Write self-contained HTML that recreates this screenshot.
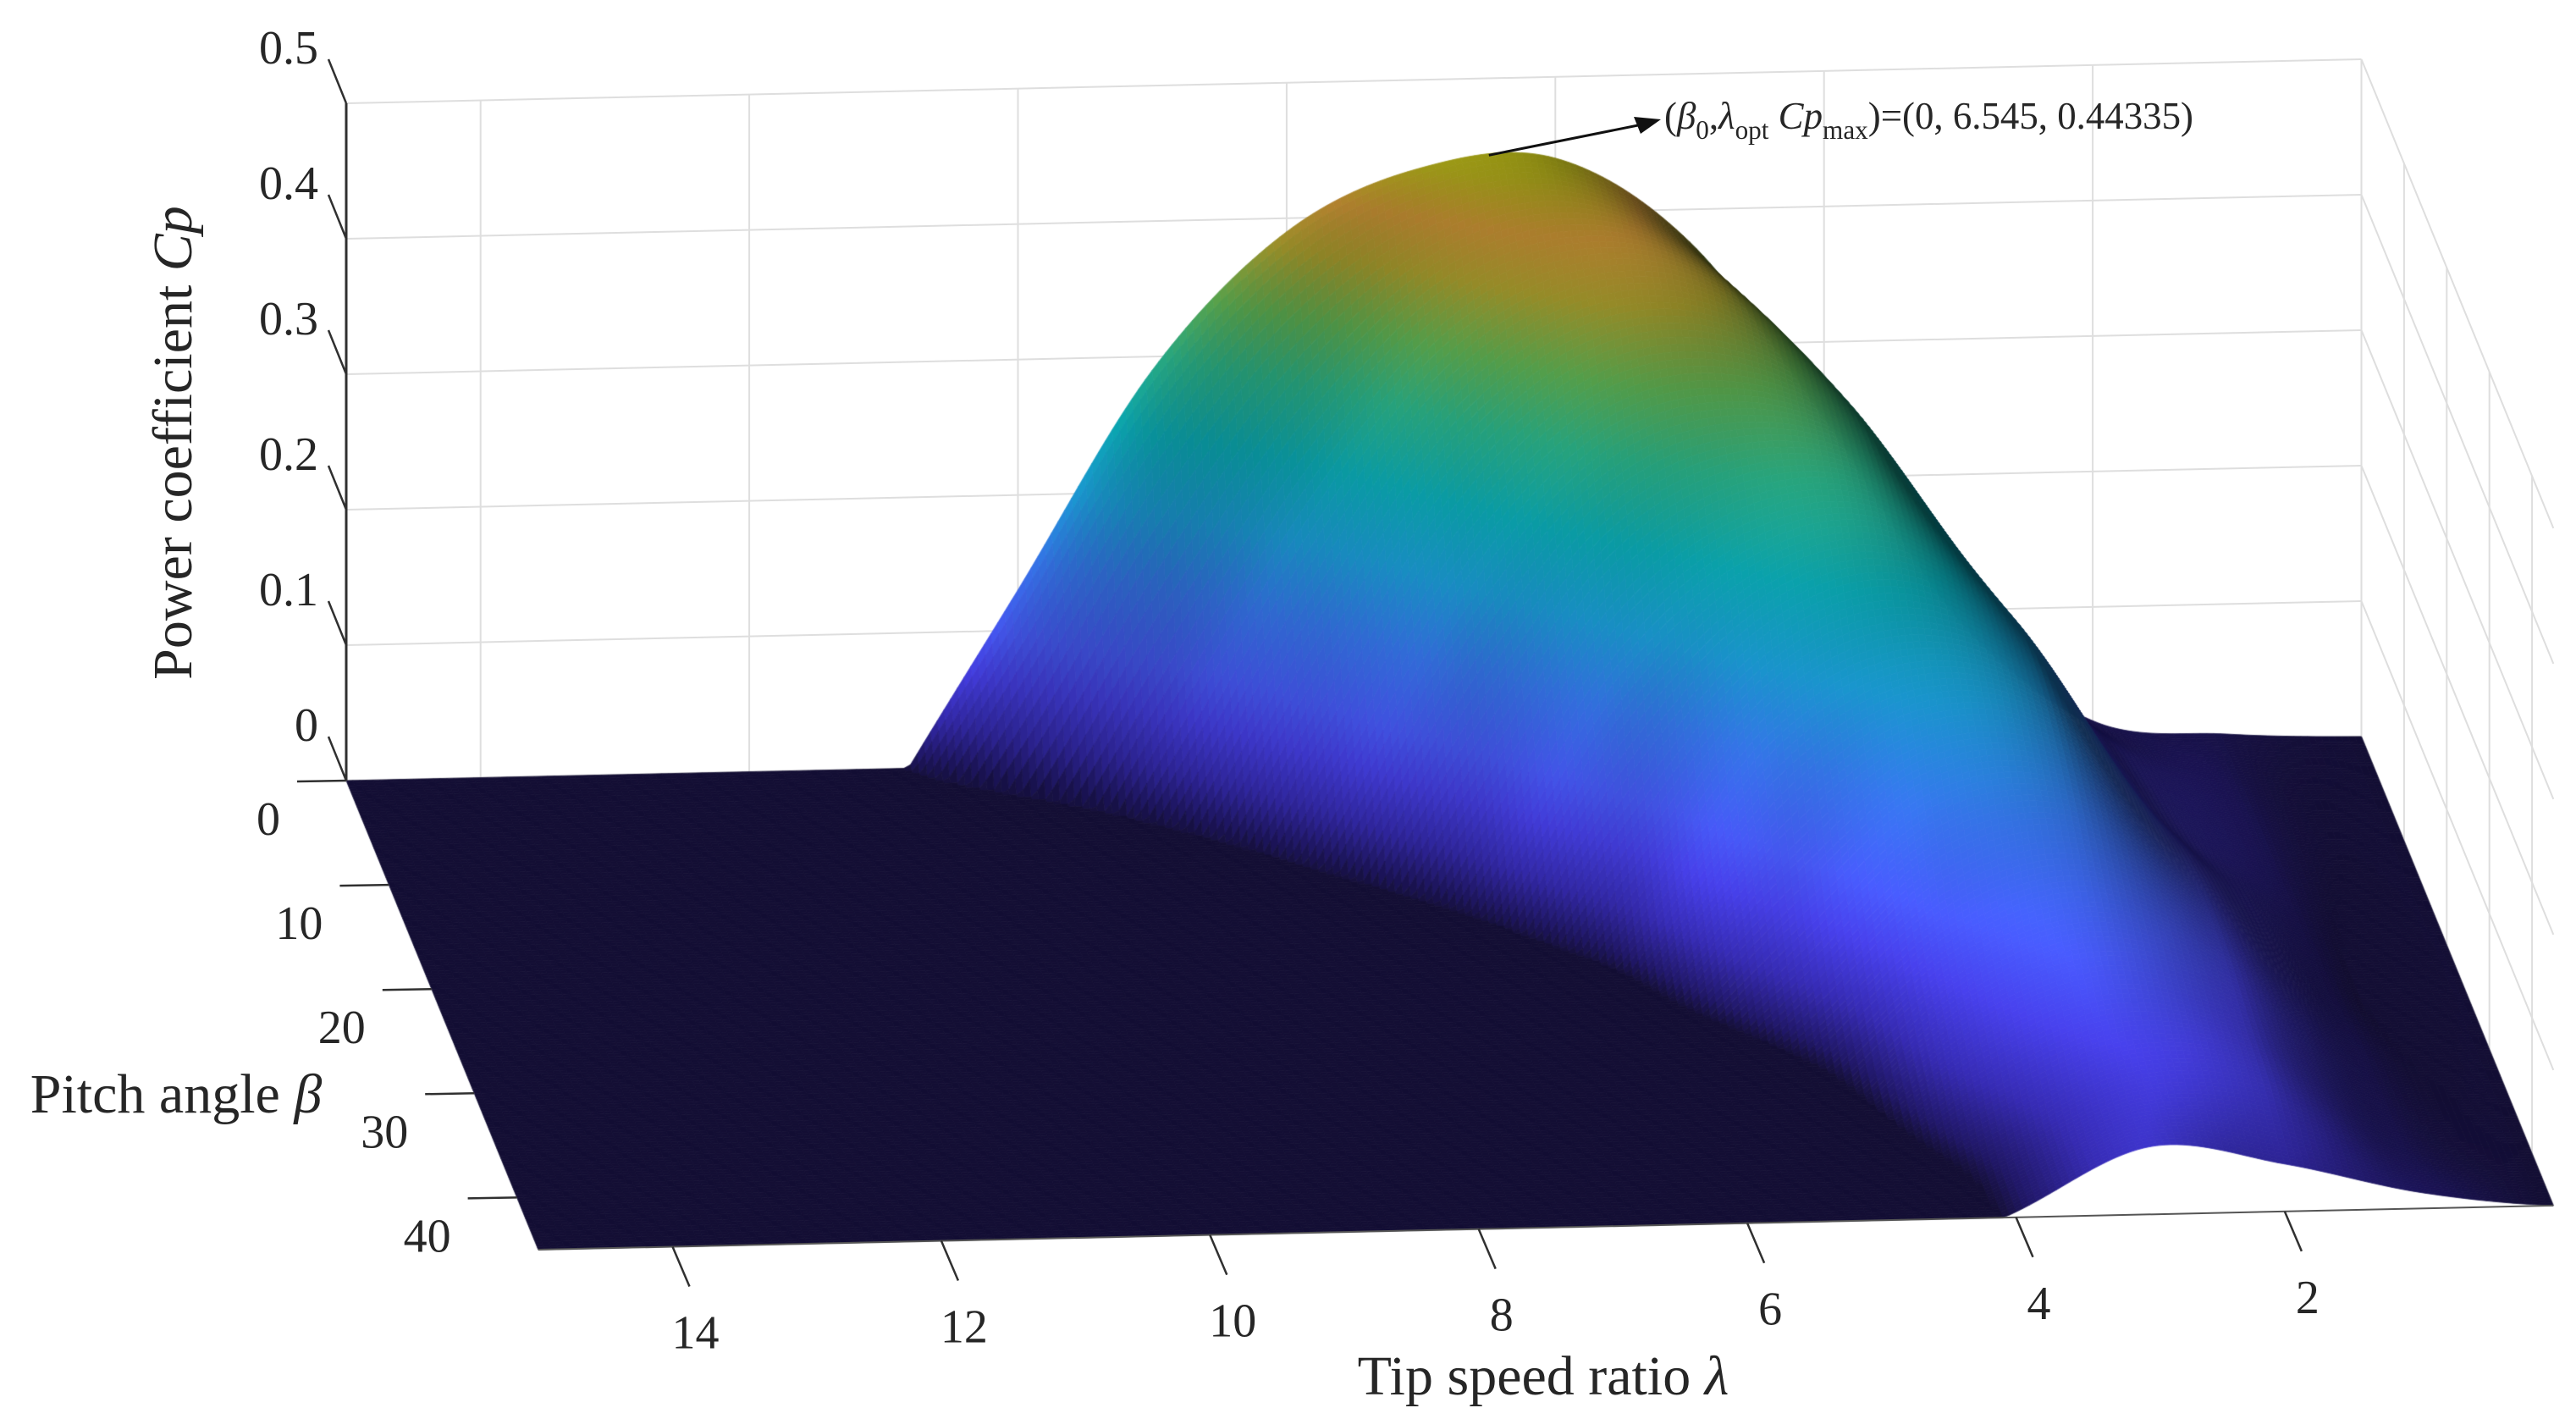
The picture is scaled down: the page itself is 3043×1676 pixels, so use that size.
<!DOCTYPE html>
<html><head><meta charset="utf-8"><style>
html,body{margin:0;padding:0;background:#fff;}
#wrap{position:relative;width:3043px;height:1676px;overflow:hidden;}
svg,canvas{position:absolute;left:0;top:0;}
text{font-family:"Liberation Serif",serif;fill:#262626;}
</style></head><body>
<div id="wrap">
<svg id="grid" width="3043" height="1676"></svg>
<canvas id="surf" width="3043" height="1676"></canvas>
<svg id="over" width="3043" height="1676"></svg>
</div>
<script>
// ---- data (unclipped Cp; plotted clipped at 0), lambda step 1, beta step 5 ----
const lambdaVals=[0,1,2,3,4,5,6,7,8,9,10,11,12,13,14,15];
const betaVals=[0,5,10,15,20,25,30,35,40,45];
const cpBeta0 =[0,0.004,0.016,0.093,0.244,0.376,0.44,0.435,0.39,0.29,0.13,-0.03,-0.2,-0.32,-0.4,-0.45];
const cpBeta5 =[0,0.005,0.037,0.15,0.296,0.384,0.395,0.341,0.217,0.056,-0.1,-0.22,-0.3,-0.36,-0.4,-0.43];
const cpBeta10=[0,0.006,0.049,0.18,0.30,0.335,0.305,0.195,0.03,-0.13,-0.25,-0.33,-0.38,-0.42,-0.45,-0.47];
const cpBeta15=[0,0.006,0.061,0.199,0.276,0.26,0.173,0.018,-0.13,-0.25,-0.33,-0.38,-0.42,-0.45,-0.47,-0.49];
const cpBeta20=[0,0.006,0.079,0.191,0.217,0.163,0.033,-0.09,-0.2,-0.28,-0.34,-0.38,-0.41,-0.44,-0.46,-0.48];
const cpBeta25=[0,0.006,0.086,0.163,0.154,0.067,-0.03,-0.12,-0.2,-0.27,-0.32,-0.36,-0.39,-0.42,-0.44,-0.46];
const cpBeta30=[0,0.008,0.081,0.123,0.09,0.0,-0.08,-0.16,-0.22,-0.27,-0.31,-0.34,-0.37,-0.39,-0.41,-0.43];
const cpBeta35=[0,0.008,0.067,0.089,0.049,-0.03,-0.1,-0.16,-0.21,-0.25,-0.29,-0.32,-0.34,-0.36,-0.38,-0.4];
const cpBeta40=[0,0.009,0.056,0.06,0.013,-0.04,-0.09,-0.14,-0.18,-0.22,-0.25,-0.28,-0.3,-0.32,-0.34,-0.36];
const cpBeta45=[0,0.012,0.035,0.05,0.004,-0.04,-0.08,-0.12,-0.16,-0.19,-0.22,-0.25,-0.27,-0.29,-0.31,-0.33];
const zTicks=["0","0.1","0.2","0.3","0.4","0.5"];
const zTickVals=[0,0.1,0.2,0.3,0.4,0.5];
const betaTicks=[0,10,20,30,40];
const lambdaTicks=[14,12,10,8,6,4,2];
const peakPoint=[6.545,0,0.44335];

const grid=[cpBeta0,cpBeta5,cpBeta10,cpBeta15,cpBeta20,cpBeta25,cpBeta30,cpBeta35,cpBeta40,cpBeta45];
const LMAX=15,BMAX=45,ZMAX=0.5;
function P(l,b,z){return [409+(LMAX-l)*158.7+b*5.04, 922-(LMAX-l)*3.47+b*12.31-z*1600];}
const NS="http://www.w3.org/2000/svg";
const gsv=document.getElementById('grid'), osv=document.getElementById('over');
function line(sv,a,b,col,w,name){const e=document.createElementNS(NS,'line');
e.setAttribute('x1',a[0]);e.setAttribute('y1',a[1]);e.setAttribute('x2',b[0]);e.setAttribute('y2',b[1]);
e.setAttribute('stroke',col);e.setAttribute('stroke-width',w);


sv.appendChild(e);return e;}
function txt(sv,x,y,s,size,anchor,name){const e=document.createElementNS(NS,'text');
e.setAttribute('x',x);e.setAttribute('y',y);e.setAttribute('font-size',size);e.setAttribute('text-anchor',anchor);
e.textContent=s;


sv.appendChild(e);return e;}
// gridlines
const GC='#dedede';
zTickVals.forEach(z=>{line(gsv,P(LMAX,0,z),P(0,0,z),GC,2,'back-wall-gridline');
 line(gsv,P(0,0,z),P(0,BMAX,z),GC,2,'side-wall-gridline');});
for(let l=0;l<LMAX;l+=2){line(gsv,P(l,0,0),P(l,0,ZMAX),GC,2,'back-wall-vertical-gridline');}
betaTicks.forEach(b=>{if(b>0)line(gsv,P(0,b,0),P(0,b,ZMAX),GC,2,'side-wall-vertical-gridline');});

// surface
function gv(i,j){i=Math.max(0,Math.min(lambdaVals.length-1,i));j=Math.max(0,Math.min(betaVals.length-1,j));return grid[j][i];}
function cr(p0,p1,p2,p3,t){return 0.5*(2*p1+(-p0+p2)*t+(2*p0-5*p1+4*p2-p3)*t*t+(-p0+3*p1-3*p2+p3)*t*t*t);}
const dL=lambdaVals[1]-lambdaVals[0], dB=betaVals[1]-betaVals[0];
function val(l,b){const x=l/dL,y=b/dB;const i=Math.floor(x),j=Math.floor(y);const tx=x-i,ty=y-j;
 const r=[];for(let k=-1;k<=2;k++){r.push(cr(gv(i-1,j+k),gv(i,j+k),gv(i+1,j+k),gv(i+2,j+k),tx));}
 return Math.max(0,cr(r[0],r[1],r[2],r[3],ty));}
const stops=[[0,[19,14,52]],[0.008,[28,20,90]],[0.035,[48,38,160]],[0.07,[64,58,212]],[0.1,[65,82,228]],[0.15,[50,110,220]],[0.2,[25,145,200]],[0.25,[10,160,170]],[0.3,[40,165,125]],[0.34,[85,160,75]],[0.38,[150,140,40]],[0.41,[172,125,45]],[0.435,[145,140,22]],[0.46,[135,140,10]]];
function cmap(z){if(z<=0)return stops[0][1];for(let k=1;k<stops.length;k++){if(z<=stops[k][0]){const a=stops[k-1],b=stops[k];const t=(z-a[0])/(b[0]-a[0]);return [0,1,2].map(c=>a[1][c]+(b[1][c]-a[1][c])*t);}}return stops[stops.length-1][1];}
const cv=document.getElementById('surf');const ctx=cv.getContext('2d');
const nl=300,nb=180;const Z=[];
for(let j=0;j<=nb;j++){const row=[];for(let i=0;i<=nl;i++){row.push(val(i*LMAX/nl,j*BMAX/nb));}Z.push(row);}
let L=[-0.75,0.35,0.8];const Ln=Math.hypot(...L);L=L.map(v=>v/Ln);const flat=L[2];
for(let j=0;j<nb;j++){for(let i=0;i<nl;i++){
 const l0=i*LMAX/nl,l1=(i+1)*LMAX/nl,b0=j*BMAX/nb,b1=(j+1)*BMAX/nb;
 const z00=Z[j][i],z10=Z[j][i+1],z01=Z[j+1][i],z11=Z[j+1][i+1];
 const zm=(z00+z10+z01+z11)/4;
 const dzdX=-((z10+z11)-(z00+z01))/2*1600/(158.7*LMAX/nl);
 const dzdY=((z01+z11)-(z00+z10))/2*1600/(13.3*BMAX/nb);
 let n=[-dzdX,-dzdY,1];const nn=Math.hypot(...n);n=n.map(v=>v/nn);
 const d=Math.max(0,n[0]*L[0]+n[1]*L[1]+n[2]*L[2]);
 let s=(0.3+0.7*d)/(0.3+0.7*flat);s=Math.min(1.12,s);
 const c=cmap(zm).map(v=>Math.max(0,Math.min(255,Math.round(v*s))));
 const col='rgb('+c.join(',')+')';
 const a=P(l0,b0,z00),b=P(l1,b0,z10),cc=P(l1,b1,z11),dd=P(l0,b1,z01);
 ctx.beginPath();ctx.moveTo(a[0],a[1]);ctx.lineTo(b[0],b[1]);ctx.lineTo(cc[0],cc[1]);ctx.lineTo(dd[0],dd[1]);ctx.closePath();
 ctx.fillStyle=col;ctx.strokeStyle=col;ctx.lineWidth=0.8;ctx.fill();ctx.stroke();
}}

// axes
const AC='#303030';
line(osv,P(LMAX,0,0),P(LMAX,0,ZMAX),AC,3,'z-axis-line');
line(osv,P(LMAX,BMAX,0),P(0,BMAX,0),'#555',2,'lambda-axis-line');
zTickVals.forEach((z,k)=>{const p=P(LMAX,0,z);line(osv,p,[p[0]-21,p[1]-52],AC,2.5,'z-tick');
 txt(osv,376,p[1]-47,zTicks[k],56,'end','z-tick-label');});
betaTicks.forEach(b=>{const p=P(LMAX,b,0);line(osv,p,[p[0]-58,p[1]+1],AC,2.5,'beta-tick');
 txt(osv,p[0]-78,p[1]+64,String(b),56,'end','beta-tick-label');});
lambdaTicks.forEach(l=>{const p=P(l,BMAX,0);line(osv,p,[p[0]+20,p[1]+47],AC,2.5,'lambda-tick');
 txt(osv,p[0]+27,p[1]+120,String(l),56,'middle','lambda-tick-label');});
// titles
(function(){
 let t=txt(osv,1823,1647,'Tip speed ratio ',66,'middle','x-axis-title');
 const s=document.createElementNS(NS,'tspan');s.setAttribute('font-style','italic');s.textContent='λ';t.appendChild(s);
 t=txt(osv,208,1314,'Pitch angle ',66,'middle','y-axis-title');
 const s2=document.createElementNS(NS,'tspan');s2.setAttribute('font-style','italic');s2.textContent='β';t.appendChild(s2);
 t=txt(osv,0,0,'Power coefficient ',66,'middle','z-axis-title');
 t.setAttribute('transform','translate(226,523) rotate(-90)');
 const s3=document.createElementNS(NS,'tspan');s3.setAttribute('font-style','italic');s3.textContent='Cp';t.appendChild(s3);
})();
// annotation
(function(){
 const pk=P(peakPoint[0],peakPoint[1],peakPoint[2]);
 line(osv,[pk[0]+8,pk[1]],[1945,146],'#111',3,'annotation-arrow-line');
 const ah=document.createElementNS(NS,'polygon');
 ah.setAttribute('points','1962,141 1930,138 1938,158');ah.setAttribute('fill','#111');
 
 
 osv.appendChild(ah);
 const t=document.createElementNS(NS,'text');
 t.setAttribute('x',1966);t.setAttribute('y',152);t.setAttribute('font-size',46);
 t.setAttribute('textLength',625);t.setAttribute('lengthAdjust','spacingAndGlyphs');
 
 
 t.innerHTML='(<tspan font-style="italic">β</tspan><tspan font-size="32" dy="12">0</tspan><tspan dy="-12">,</tspan><tspan font-style="italic">λ</tspan><tspan font-size="32" dy="12">opt</tspan><tspan dy="-12" font-style="italic"> Cp</tspan><tspan font-size="32" dy="12">max</tspan><tspan dy="-12">)=(0, 6.545, 0.44335)</tspan>';
 osv.appendChild(t);
})();
</script>
</body></html>
